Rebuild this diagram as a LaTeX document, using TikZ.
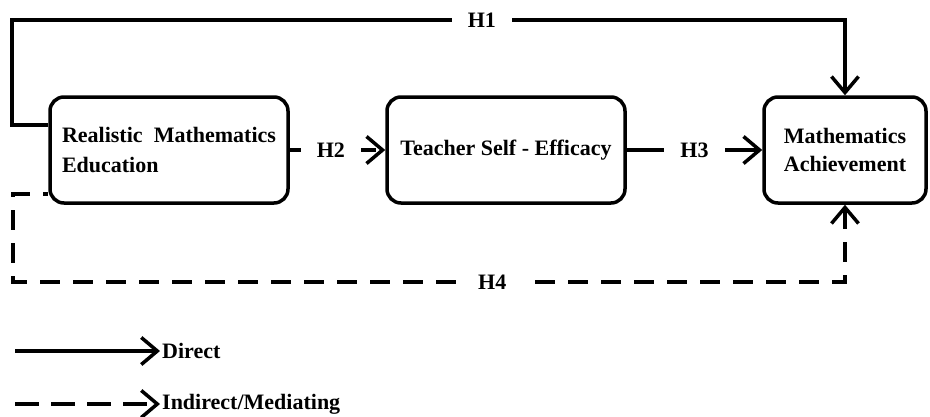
\documentclass[tikz,border=0pt]{standalone}
\usepackage{fontspec}
\setmainfont{Liberation Serif}
\usetikzlibrary{arrows.meta}

\tikzset{
  box/.style={draw,line width=3.5pt,rounded corners=14pt,minimum height=106pt,
    font=\bfseries\fontsize{22}{30}\selectfont},
  lbl/.style={fill=white,inner xsep=16pt,font=\bfseries\fontsize{22}{24}\selectfont},
  direct/.style={->,line width=3.5pt},
  indirect/.style={->,line width=3.5pt,dash pattern=on 20pt off 13pt}
}

\begin{document}
\begin{tikzpicture}[x=1pt,y=-1pt,
    >={Straight Barb[length=16pt,width=27pt]}]
    \useasboundingbox (0,0) rectangle (930,416);
    \path (169,150) node [box,minimum width=238pt,text width=214pt,align=left] (rme)
	{Realistic\hfill Mathematics\\Education};
    \path (506,150) node [box,minimum width=238pt] (tse) {Teacher Self - Efficacy};
    \path (845,150) node [box,minimum width=162pt,align=center,
	font=\bfseries\fontsize{22}{28}\selectfont] (ma) {Mathematics\\Achievement};
    \coordinate (topleft) at (12,20);
    \coordinate (botleft) at (13,282);
    % hypotheses
    \draw [direct] ([yshift=25pt]rme.west) -| (topleft)
	-| node [lbl,pos=0.282] (h1) {H1} (ma.north);
    \draw [indirect] (rme.east) -- node [lbl,pos=0.43] (h2) {H2} (tse.west);
    \draw [direct] (tse.east) -- node [lbl,pos=0.5] (h3) {H3} (ma.west);
    \draw [indirect,<-] (ma.south) |- node [lbl,pos=0.712] (h4) {H4} (botleft)
	|- ([yshift=-44pt]rme.west);
    % legend
    \coordinate (soliden) at (15,351);
    \coordinate (dashen) at (15,404);
    \path (160,351) node [anchor=west,inner xsep=2pt,
	font=\bfseries\fontsize{22}{24}\selectfont] (ldirect) {Direct};
    \path (160,404) node [anchor=west,inner xsep=2pt,
	font=\bfseries\fontsize{22}{24}\selectfont] (lindirect) {Indirect/Mediating};
    \draw [direct] (soliden) -- (ldirect.west);
    \draw [indirect,dash pattern=on 24pt off 12pt] (dashen) -- (lindirect.west);
\end{tikzpicture}
\end{document}
